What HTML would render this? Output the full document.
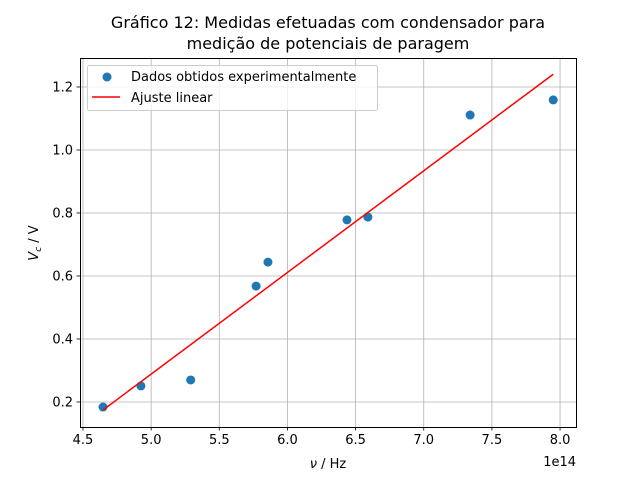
<!DOCTYPE html>
<html><head><meta charset="utf-8"><style>
html,body{margin:0;padding:0;background:#fff}
svg{display:block;font-family:"DejaVu Sans","Liberation Sans",sans-serif}
</style></head><body>
<svg id="chart" width="640" height="480">
<rect x="0" y="0" width="640" height="480" fill="#fff"/>
<text x="328" y="28" text-anchor="middle" font-size="16">Gráfico 12: Medidas efetuadas com condensador para</text>
<text x="328" y="49" text-anchor="middle" font-size="16">medição de potenciais de paragem</text>
<g id="grid"></g><g id="ticks"></g><g id="marks"></g>
<rect x="80.5" y="58.5" width="496" height="369" fill="none" stroke="#000" stroke-width="1"/>
<text x="328" y="468" text-anchor="middle" font-size="13"><tspan font-style="italic">ν</tspan> / Hz</text>
<text transform="translate(38,243) rotate(-90)" text-anchor="middle" font-size="13"><tspan font-style="italic">V</tspan><tspan font-style="italic" font-size="9" dy="3">c</tspan><tspan dy="-3"> / V</tspan></text>
<text x="576" y="466" text-anchor="end" font-size="13">1e14</text>
<g>
<rect x="87.5" y="65.5" width="290" height="45" rx="2" fill="#fff" fill-opacity="0.8" stroke="#ccc"/>
<circle cx="107" cy="77" r="4.5" fill="#1f77b4"/>
<text x="131" y="81" font-size="13">Dados obtidos experimentalmente</text>
<line x1="92" y1="97" x2="120" y2="97" stroke="red" stroke-width="1.5"/>
<text x="131" y="102" font-size="13">Ajuste linear</text>
</g>
</svg>
<script>
const xData = [4.647, 4.925, 5.29, 5.77, 5.857, 6.437, 6.59, 7.34, 7.95];
const yData = [0.184, 0.251, 0.27, 0.568, 0.644, 0.778, 0.787, 1.111, 1.159];
const fitSlope = [0.3227];
const fitIntercept = [-1.325];
const xTicks = [4.5, 5.0, 5.5, 6.0, 6.5, 7.0, 7.5, 8.0];
const xTickLabels = ["4.5","5.0","5.5","6.0","6.5","7.0","7.5","8.0"];
const yTicks = [0.2, 0.4, 0.6, 0.8, 1.0, 1.2];
const yTickLabels = ["0.2","0.4","0.6","0.8","1.0","1.2"];

const NS = "http://www.w3.org/2000/svg";
const L=80, R=576, T=58, B=427;
const xMin=4.478, xMax=8.117, yMin=0.1206, yMax=1.292;
const sx = v => L + (v-xMin)/(xMax-xMin)*(R-L);
const sy = v => B - (v-yMin)/(yMax-yMin)*(B-T);
function mk(tag, attrs, parent){const e=document.createElementNS(NS,tag);for(const k in attrs)e.setAttribute(k,attrs[k]);document.getElementById(parent).appendChild(e);return e;}

xTicks.forEach((t,i)=>{
  const x=sx(t);
  const g=mk("line",{x1:x,y1:T,x2:x,y2:B,stroke:"#b0b0b0","stroke-width":0.8},"grid");
  
  
  const tk=mk("line",{x1:x,y1:B,x2:x,y2:B+3.5,stroke:"#000","stroke-width":0.8},"ticks");
  
  
  const tx=mk("text",{x:x,y:B+17,"text-anchor":"middle","font-size":13},"ticks");
  tx.textContent=xTickLabels[i];
  
  
});
yTicks.forEach((t,i)=>{
  const y=sy(t);
  const g=mk("line",{x1:L,y1:y,x2:R,y2:y,stroke:"#b0b0b0","stroke-width":0.8},"grid");
  
  
  const tk=mk("line",{x1:L-3.5,y1:y,x2:L,y2:y,stroke:"#000","stroke-width":0.8},"ticks");
  
  
  const tx=mk("text",{x:L-7,y:y+4.5,"text-anchor":"end","font-size":13},"ticks");
  tx.textContent=yTickLabels[i];
  
  
});
xData.forEach((v,i)=>{
  const c=mk("circle",{cx:sx(v),cy:sy(yData[i]),r:4.5,fill:"#1f77b4"},"marks");
  
  
});
const x0=Math.min(...xData), x1=Math.max(...xData);
const fl=mk("line",{x1:sx(x0),y1:sy(fitSlope[0]*x0+fitIntercept[0]),x2:sx(x1),y2:sy(fitSlope[0]*x1+fitIntercept[0]),stroke:"red","stroke-width":1.5},"marks");


</script>
</body></html>
